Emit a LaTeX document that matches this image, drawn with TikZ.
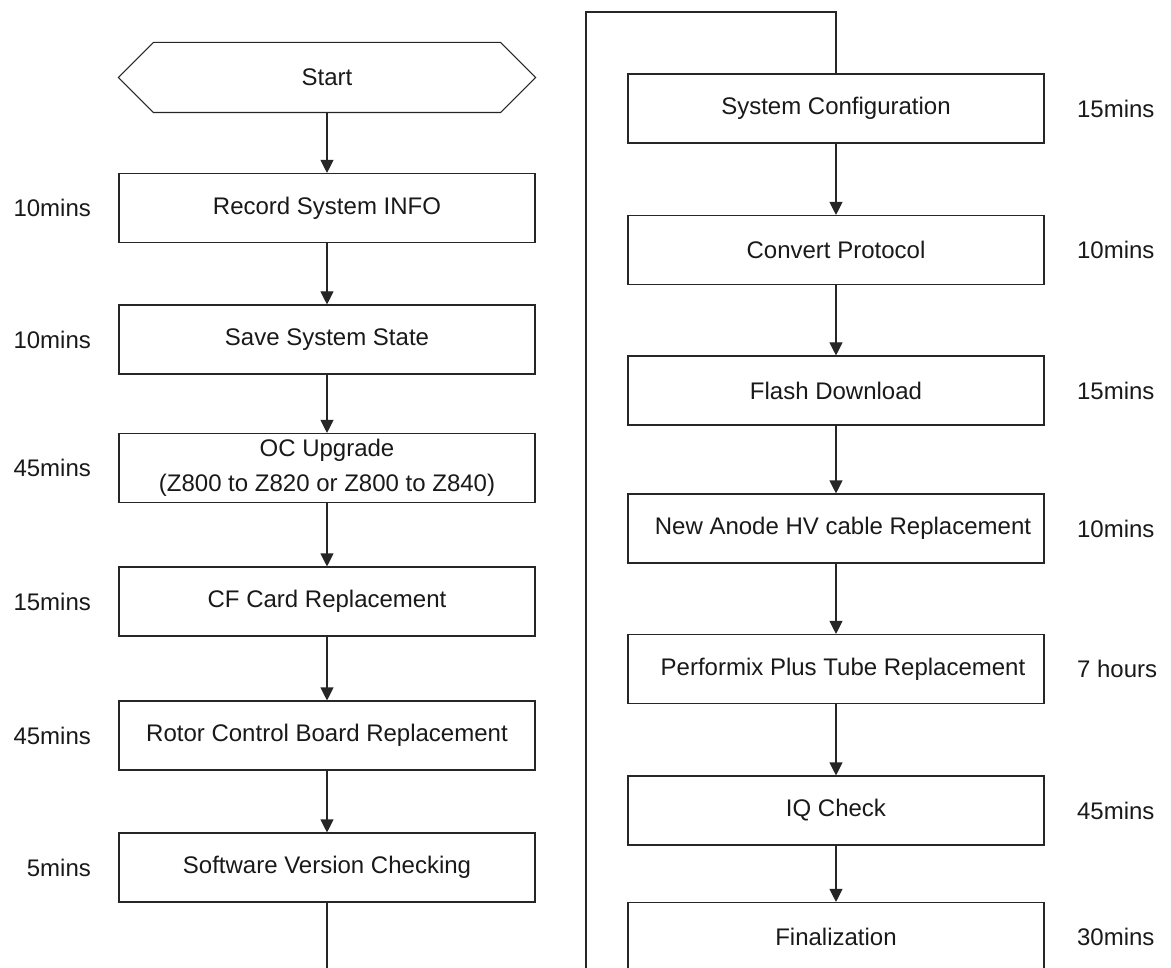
\documentclass[tikz,border=0pt]{standalone}
\usepackage{fontspec}
\setmainfont{Liberation Sans}
\usetikzlibrary{arrows.meta, positioning}

\begin{document}
\begin{tikzpicture}[x=1pt, y=-1pt, line width=1.1pt, text=black!90,
	font=\fontsize{24}{35}\selectfont,
	stepbox/.style={draw=black!85, rectangle, minimum width=416pt, minimum height=69pt, inner sep=0pt, align=center},
	timelbl/.style={inner sep=0pt},
	flow/.style={draw=black!85, -{Triangle[length=13pt, width=13pt]}},
	link/.style={draw=black!85}]
	\clip (0,0) rectangle (1171,968);
	\node[minimum width=416pt, minimum height=69pt, inner sep=0pt] (start) at (327,77.5) {Start};
	\draw[link] (start.west) -- ([xshift=35pt]start.north west) -- ([xshift=-35pt]start.north east) -- (start.east) -- ([xshift=-35pt]start.south east) -- ([xshift=35pt]start.south west) -- cycle;
	\node[stepbox] (record) at (327,208) {Record System INFO};
	\node[stepbox] (save) at (327,339.5) {Save System State};
	\node[stepbox] (oc) at (327,468) {OC Upgrade\\(Z800 to Z820 or Z800 to Z840)};
	\node[stepbox] (cf) at (327,601.5) {CF Card Replacement};
	\node[stepbox] (rotor) at (327,735.5) {Rotor Control Board Replacement};
	\node[stepbox] (software) at (327,867.5) {Software Version Checking};
	\node[timelbl, left=27pt of record] (trecord) {10mins};
	\node[timelbl, left=27pt of save] (tsave) {10mins};
	\node[timelbl, left=27pt of oc] (toc) {45mins};
	\node[timelbl, left=27pt of cf] (tcf) {15mins};
	\node[timelbl, left=27pt of rotor] (trotor) {45mins};
	\node[timelbl, left=27pt of software] (tsoftware) {5mins};
	\draw[flow] (start.south) -- (record.north);
	\draw[flow] (record) -- (save);
	\draw[flow] (save) -- (oc);
	\draw[flow] (oc) -- (cf);
	\draw[flow] (cf) -- (rotor);
	\draw[flow] (rotor) -- (software);
	\coordinate (pageout) at (327,975);
	\draw[link] (software) -- (pageout);
	\node[stepbox] (sysconf) at (836,108.5) {System Configuration};
	\node[stepbox] (convert) at (836,250) {Convert Protocol};
	\node[stepbox] (flash) at (836,390.5) {Flash Download};
	\node[stepbox] (anode) at (836,528.5) {\hspace*{14pt}New Anode HV cable Replacement};
	\node[stepbox] (tube) at (836,669) {\hspace*{14pt}Performix Plus Tube Replacement};
	\node[stepbox] (iq) at (836,810.5) {IQ Check};
	\node[stepbox] (final) at (836,937) {Finalization};
	\node[timelbl, right=32pt of sysconf] (tsysconf) {15mins};
	\node[timelbl, right=32pt of convert] (tconvert) {10mins};
	\node[timelbl, right=32pt of flash] (tflash) {15mins};
	\node[timelbl, right=32pt of anode] (tanode) {10mins};
	\node[timelbl, right=32pt of tube] (ttube) {7 hours};
	\node[timelbl, right=32pt of iq] (tiq) {45mins};
	\node[timelbl, right=32pt of final] (tfinal) {30mins};
	\coordinate (pagein) at (586,975);
	\coordinate (looptop) at (586,12);
	\draw[link] (pagein) -- (looptop) -| (sysconf.north);
	\draw[flow] (sysconf) -- (convert);
	\draw[flow] (convert) -- (flash);
	\draw[flow] (flash) -- (anode);
	\draw[flow] (anode) -- (tube);
	\draw[flow] (tube) -- (iq);
	\draw[flow] (iq) -- (final);
\end{tikzpicture}
\end{document}
